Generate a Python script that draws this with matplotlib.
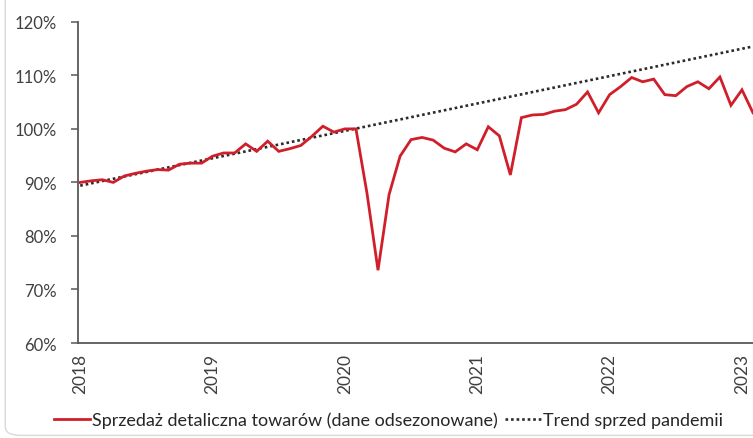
import numpy as np
import matplotlib.pyplot as plt
from matplotlib.patches import FancyBboxPatch

# Monthly retail sales of goods (seasonally adjusted), index, Jan 2018 = start
sales = [90.0, 90.3, 90.5, 90.0, 91.2, 91.7, 92.1, 92.4, 92.3, 93.4, 93.6, 93.6,
         94.9, 95.5, 95.5, 97.2, 95.8, 97.7, 95.8, 96.3, 96.9, 98.6, 100.5, 99.4,
         100.0, 100.0, 88.0, 73.6, 87.7, 94.9, 98.0, 98.4, 97.9, 96.4, 95.7, 97.2,
         96.1, 100.4, 98.7, 91.4, 102.1, 102.6, 102.7, 103.3, 103.6, 104.6, 106.9, 103.0,
         106.4, 107.9, 109.6, 108.8, 109.3, 106.4, 106.2, 107.9, 108.8, 107.5, 109.7, 104.4,
         107.3, 103.0]
trend_x = [0, 61]
trend_y = [89.4, 115.4]
years = ['2018', '2019', '2020', '2021', '2022', '2023']
year_pos = [0, 12, 24, 36, 48, 60]

plt.rcParams['font.family'] = ['Lato', 'DejaVu Sans']

fig = plt.figure(figsize=(7.53, 4.39), dpi=100)
ax = fig.add_axes([0.1036, 0.2164, 0.8964, 0.7316])

x = np.arange(len(sales))
ax.plot(x, sales, color='#d01f2a', lw=2.0, label='Sprzedaż detaliczna towarów (dane odsezonowane)',
        solid_joinstyle='miter', zorder=3)
ax.plot(trend_x, trend_y, color='#2b2b2b', lw=1.9, linestyle=(0, (1, 1.1)),
        dash_capstyle='butt', label='Trend sprzed pandemii', zorder=2)

ax.set_xlim(-0.2, 61)
ax.set_ylim(60, 120)
ax.set_yticks(np.arange(60, 121, 10))
ax.set_yticklabels([f'{v}%' for v in range(60, 121, 10)])
ax.set_xticks(year_pos)
ax.set_xticklabels(years, rotation=90)

for s in ['top', 'right']:
    ax.spines[s].set_visible(False)
for s in ['left', 'bottom']:
    ax.spines[s].set_color('#595959')
    ax.spines[s].set_linewidth(1.3)

ax.tick_params(axis='y', length=5, width=1.1, color='#595959', labelsize=12, labelcolor='#404040', pad=10)
ax.tick_params(axis='x', length=0, labelsize=12.5, labelcolor='#404040', pad=7)

fig.legend(loc='lower left', bbox_to_anchor=(0.05, -0.014), ncol=2, frameon=False, fontsize=13,
           handlelength=2.0, handletextpad=0.1, columnspacing=0.4, labelcolor='#262626')

# rounded frame around the whole picture
fig.patches.append(FancyBboxPatch((0.007, 0.006), 1.2, 1.2, boxstyle='round,pad=0,rounding_size=0.02',
                                  transform=fig.transFigure, facecolor='none', edgecolor='#d9d9d9', lw=1.0))

fig.savefig('out.png', dpi=100)
